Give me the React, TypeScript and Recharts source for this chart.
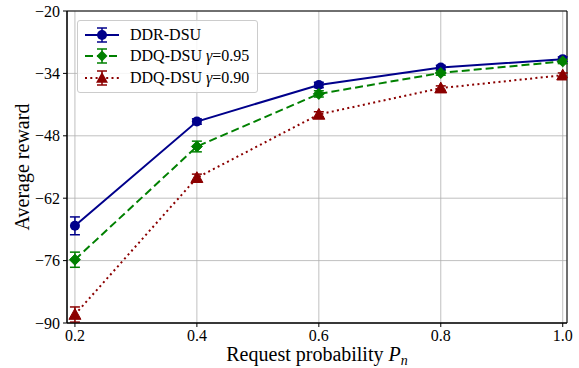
import { LineChart, Line, XAxis, YAxis, CartesianGrid, ErrorBar, ReferenceArea } from "recharts";

const probs = [0.2, 0.4, 0.6, 0.8, 1.0];
const ddrReward = [-68.2, -44.8, -36.6, -32.7, -30.8];
const ddrErr = [2.0, 0.6, 0.6, 0.5, 0.5];
const ddq95Reward = [-75.8, -50.4, -38.6, -33.9, -31.3];
const ddq95Err = [1.7, 1.2, 0.7, 0.5, 0.5];
const ddq90Reward = [-88.1, -57.4, -43.2, -37.3, -34.4];
const ddq90Err = [1.7, 0.8, 0.6, 0.5, 0.5];

const xTicks = [0.2, 0.4, 0.6, 0.8, 1.0];
const yTicks = [-90, -76, -62, -48, -34, -20];

const BLUE = "#00008b";
const GREEN = "#008000";
const RED = "#8b0000";
const FONT = "Liberation Serif, Times New Roman, serif";

const data = probs.map((p, i) => ({
  p,
  ddr: ddrReward[i],
  ddrErr: ddrErr[i],
  ddq95: ddq95Reward[i],
  ddq95Err: ddq95Err[i],
  ddq90: ddq90Reward[i],
  ddq90Err: ddq90Err[i],
}));

const minus = (v: number) => String(v).replace("-", "\u2212");

const Diamond = (props: any) => {
  const { cx, cy, index } = props;
  if (cx == null || cy == null) return <g key={`d${index}`} />;
  const s = 5.5;
  return (
    <path
      key={`d${index}`}
      d={`M${cx},${cy - s}L${cx + s},${cy}L${cx},${cy + s}L${cx - s},${cy}Z`}
      fill={GREEN}
      stroke={GREEN}
    />
  );
};

const Triangle = (props: any) => {
  const { cx, cy, index } = props;
  if (cx == null || cy == null) return <g key={`t${index}`} />;
  const s = 6;
  return (
    <path
      key={`t${index}`}
      d={`M${cx},${cy - s}L${cx + s},${cy + s * 0.8}L${cx - s},${cy + s * 0.8}Z`}
      fill={RED}
      stroke={RED}
    />
  );
};

const legendItems = [
  { name: "DDR-DSU", gamma: "", color: BLUE, dash: "", marker: "circle" },
  { name: "DDQ-DSU ", gamma: "=0.95", color: GREEN, dash: "8 4", marker: "diamond" },
  { name: "DDQ-DSU ", gamma: "=0.90", color: RED, dash: "2 3.3", marker: "triangle" },
];

function LegendBox() {
  return (
    <div
      style={{
        position: "absolute",
        left: 77,
        top: 20,
        background: "rgba(255,255,255,0.85)",
        border: "1px solid #cccccc",
        borderRadius: 3,
        padding: "3px 8px 3px 4px",
        fontFamily: FONT,
        fontSize: 16,
        color: "#000",
        lineHeight: 1,
      }}
    >
      {legendItems.map((it) => (
        <div key={it.name + it.gamma} style={{ display: "flex", alignItems: "center", height: 21.5 }}>
          <svg width={40} height={20} style={{ marginRight: 8 }}>
            <line x1={3} y1={10} x2={37} y2={10} stroke={it.color} strokeWidth={2} strokeDasharray={it.dash} />
            <line x1={20} y1={3} x2={20} y2={17} stroke={it.color} strokeWidth={1.5} />
            <line x1={15} y1={3} x2={25} y2={3} stroke={it.color} strokeWidth={1.5} />
            <line x1={15} y1={17} x2={25} y2={17} stroke={it.color} strokeWidth={1.5} />
            {it.marker === "circle" && <circle cx={20} cy={10} r={5} fill={it.color} />}
            {it.marker === "diamond" && <path d="M20,4.5L25.5,10L20,15.5L14.5,10Z" fill={it.color} />}
            {it.marker === "triangle" && <path d="M20,4L26,14.8L14,14.8Z" fill={it.color} />}
          </svg>
          <span>
            {it.name}
            {it.gamma && (
              <>
                <i>{"\u03b3"}</i>
                {it.gamma}
              </>
            )}
          </span>
        </div>
      ))}
    </div>
  );
}

const XLabel = (props: any) => {
  const { viewBox } = props;
  const cx = viewBox.x + viewBox.width / 2;
  return (
    <text x={cx} y={viewBox.y + 38} textAnchor="middle" style={{ fontFamily: FONT }} fontSize={20} fill="#000">
      <tspan>Request probability </tspan>
      <tspan fontStyle="italic">P</tspan>
      <tspan fontStyle="italic" fontSize={14} dy={4}>n</tspan>
    </text>
  );
};

const YLabel = (props: any) => {
  const { viewBox } = props;
  const cy = viewBox.y + viewBox.height / 2;
  const x = 22;
  return (
    <text
      x={x}
      y={cy}
      transform={`rotate(-90, ${x}, ${cy})`}
      textAnchor="middle"
      dominantBaseline="central"
      style={{ fontFamily: FONT }}
      fontSize={20}
      fill="#000"
    >
      Average reward
    </text>
  );
};

export default function App() {
  const tickStyle = { fontFamily: FONT, fontSize: 16, fill: "#000" };
  return (
    <div style={{ position: "absolute", left: 0, top: 0, width: 579, height: 368, background: "#fff", fontFamily: FONT }}>
      <LineChart width={579} height={368} data={data} margin={{ top: 11, right: 12, left: 0, bottom: 0 }}>
        <CartesianGrid stroke="#b0b0b0" strokeWidth={0.8} />
        <XAxis
          dataKey="p"
          type="number"
          domain={[0.187, 1.007]}
          ticks={xTicks}
          tickFormatter={(v: number) => v.toFixed(1)}
          allowDataOverflow
          height={45}
          tick={tickStyle}
          tickSize={4}
          tickMargin={3}
          stroke="#000"
          label={<XLabel />}
        />
        <YAxis
          type="number"
          domain={[-90, -20]}
          ticks={yTicks}
          tickFormatter={minus}
          allowDataOverflow
          width={67}
          tick={tickStyle}
          tickSize={4}
          tickMargin={3}
          stroke="#000"
          label={<YLabel />}
        />
        <ReferenceArea x1={0.187} x2={1.007} y1={-90} y2={-20} fill="none" stroke="#000" strokeWidth={1} />
        <Line
          dataKey="ddr"
          stroke={BLUE}
          strokeWidth={2}
          dot={{ r: 5, fill: BLUE, stroke: BLUE, strokeWidth: 0 }}
          activeDot={false}
          isAnimationActive={false}
        >
          <ErrorBar dataKey="ddrErr" width={5} stroke={BLUE} strokeWidth={1.5} direction="y" />
        </Line>
        <Line
          dataKey="ddq95"
          stroke={GREEN}
          strokeWidth={2}
          strokeDasharray="8 4"
          dot={Diamond}
          activeDot={false}
          isAnimationActive={false}
        >
          <ErrorBar dataKey="ddq95Err" width={5} stroke={GREEN} strokeWidth={1.5} direction="y" />
        </Line>
        <Line
          dataKey="ddq90"
          stroke={RED}
          strokeWidth={2}
          strokeDasharray="2 3.3"
          dot={Triangle}
          activeDot={false}
          isAnimationActive={false}
        >
          <ErrorBar dataKey="ddq90Err" width={5} stroke={RED} strokeWidth={1.5} direction="y" />
        </Line>
      </LineChart>
      <LegendBox />
    </div>
  );
}
